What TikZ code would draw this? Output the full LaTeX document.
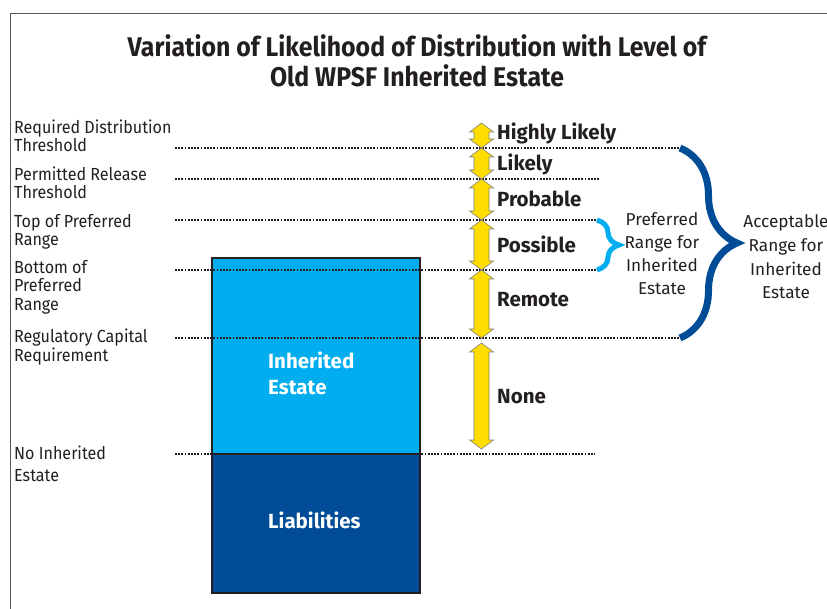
\documentclass[tikz,border=0pt]{standalone}
\usepackage{fontspec}
\setmainfont{Fira Sans}
\newfontfamily\narrowfont{Fira Sans}[FakeStretch=0.92]
\usepackage{xcolor}
\usepackage{tikz}
\usetikzlibrary{decorations.pathreplacing}
\definecolor{lightblue}{RGB}{0,174,239}
\definecolor{darkblue}{RGB}{0,76,151}
\definecolor{arrowyellow}{RGB}{255,221,0}
\definecolor{inkgrey}{RGB}{35,31,32}
\tikzstyle{levelline} = [line width=1.8pt, dash pattern=on 1.8pt off 1.4pt, inkgrey]
\tikzstyle{levellabel} = [anchor=base west, inner sep=0pt, align=left, text=inkgrey, font=\narrowfont\fontsize{17.5}{18.7}\selectfont]
\tikzstyle{chance} = [anchor=base west, inner sep=0pt, text=inkgrey, font=\fontsize{20.5}{22}\selectfont\bfseries]
\tikzstyle{boxpart} = [draw=inkgrey, line width=2.2pt, minimum width=208pt, inner sep=0pt]
\tikzstyle{boxtext} = [anchor=base west, inner sep=0pt, align=left, text=white, font=\fontsize{20.5}{25.7}\selectfont\bfseries]
\tikzstyle{yarrow} = [fill=arrowyellow, draw=black!50, line width=0.6pt, line join=miter]
\tikzstyle{rangetext} = [anchor=base, inner sep=0pt, align=center, text=inkgrey]

\begin{document}
\begin{tikzpicture}[x=1pt, y=-1pt]
\useasboundingbox (0,0) rectangle (827,609);

% frame
\draw[black!65, line width=0.8pt] (10,609) -- (10,13) -- (827,13);

% title
\node[anchor=base, align=center, inner sep=0pt, text=inkgrey, font=\narrowfont\fontsize{27}{30.5}\selectfont\bfseries] (title) at (417,87) {Variation of Likelihood of Distribution with Level of\\Old WPSF Inherited Estate};

% estate and liabilities
\node[boxpart, fill=lightblue, minimum height=196pt] (estatebox) at (316,356) {};
\node[boxpart, fill=darkblue, minimum height=139pt] (liabbox) at (316,523.5) {};
\node[boxtext] (estatetext) at (268,394) {Inherited\\Estate};
\node[boxtext] (liabtext) at (268,528) {Liabilities};

% levels
\coordinate (reqL) at (175,148);
\coordinate (reqR) at (680,148);
\coordinate (relL) at (175,179);
\coordinate (relR) at (600,179);
\coordinate (topL) at (175,220);
\coordinate (topR) at (600,220);
\coordinate (botL) at (175,270);
\coordinate (botR) at (600,270);
\coordinate (regL) at (175,338);
\coordinate (regR) at (680,338);
\coordinate (noneL) at (175,454);
\coordinate (noneR) at (595,454);

\draw[levelline] (reqL) -- (reqR);
\draw[levelline] (relL) -- (relR);
\draw[levelline] (topL) -- (topR);
\draw[levelline] (botL) -- (botR);
\draw[levelline] (regL) -- (regR);
\draw[levelline] (noneL) -- (noneR);

\node[levellabel] (reqlab) at (14,152) {Required Distribution\\Threshold};
\node[levellabel] (rellab) at (14,199) {Permitted Release\\Threshold};
\node[levellabel] (toplab) at (14,246) {Top of Preferred\\Range};
\node[levellabel] (botlab) at (14,310.5) {Bottom of\\Preferred\\Range};
\node[levellabel] (reglab) at (14,361.7) {Regulatory Capital\\Requirement};
\node[levellabel] (nonelab) at (14,481.7) {No Inherited\\[4pt]Estate};

% likelihood arrows
\foreach \ytop/\ybot in {123/148, 148/179, 179/220, 220/270, 270/338, 343/449}
  \draw[yarrow] (481.5,\ytop) -- (493.5,\ytop+9) -- (489,\ytop+9) -- (489,\ybot-9)
    -- (493.5,\ybot-9) -- (481.5,\ybot) -- (469.5,\ybot-9) -- (474,\ybot-9)
    -- (474,\ytop+9) -- (469.5,\ytop+9) -- cycle;

\node[chance] (hl) at (497,140) {Highly Likely};
\node[chance] (li) at (497,171) {Likely};
\node[chance] (pr) at (497,206.7) {Probable};
\node[chance] (po) at (497,252.7) {Possible};
\node[chance] (re) at (497,306.7) {Remote};
\node[chance] (no) at (497,403.3) {None};

% ranges
\coordinate (prefTop) at (597,220);
\coordinate (prefBot) at (597,270);
\draw[lightblue, line width=5pt, decorate, decoration={brace, amplitude=22pt}] (prefTop) -- (prefBot);
\draw[darkblue, line width=7pt, decorate, decoration={brace, amplitude=57pt}] (reqR) -- (regR);

\node[rangetext, font=\fontsize{17.2}{23}\selectfont] (preftext) at (662,295) {Preferred\\Range for\\Inherited\\Estate};
\node[rangetext, font=\fontsize{17.2}{23.7}\selectfont] (acctext) at (786,299) {Acceptable\\Range for\\Inherited\\Estate};
\end{tikzpicture}
\end{document}
